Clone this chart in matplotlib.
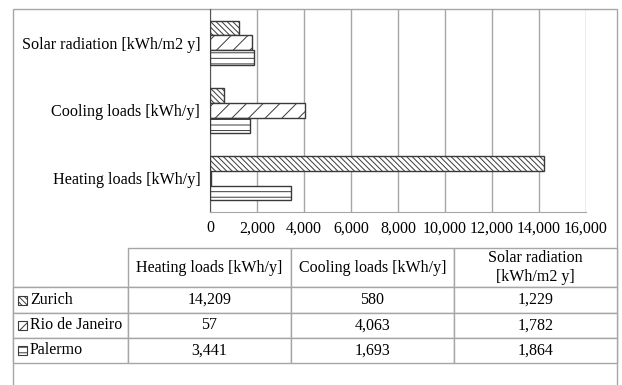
import numpy as np
import matplotlib
matplotlib.use("Agg")
from matplotlib import pyplot as plt
from matplotlib.patches import Rectangle

plt.rcParams['font.family'] = ['Liberation Serif', 'DejaVu Serif']
plt.rcParams['hatch.linewidth'] = 0.7

# data
categories = ['Heating loads [kWh/y]', 'Cooling loads [kWh/y]', 'Solar radiation [kWh/m2 y]']
table_headers = ['Heating loads [kWh/y]', 'Cooling loads [kWh/y]', 'Solar radiation\n[kWh/m2 y]']
cities = ['Zurich', 'Rio de Janeiro', 'Palermo']
zurich = [14209, 580, 1229]
rio = [57, 4063, 1782]
palermo = [3441, 1693, 1864]
x_ticks = [0, 2000, 4000, 6000, 8000, 10000, 12000, 14000, 16000]

series = [zurich, rio, palermo]
hatches = ['\\\\\\\\\\\\', '//', '---']
edge = '#3a3a3a'
grid_c = '#a6a6a6'

W, H = 622, 385
fig = plt.figure(figsize=(W / 100, H / 100), dpi=100)

# outer chart frame
frame = fig.add_axes([0, 0, 1, 1])
frame.set_xlim(0, W)
frame.set_ylim(H, 0)
frame.axis('off')
frame.add_patch(Rectangle((13, 9), 604, 400, fill=False, edgecolor=grid_c, lw=1))

# bar chart
ax = fig.add_axes([210 / W, 1 - 212 / H, 376 / W, 203 / H])
y = np.arange(len(categories))
h = 0.22
for i, vals in enumerate(series):
    ax.barh(y + (1 - i) * h, vals, height=h, color='white', edgecolor=edge,
            hatch=hatches[i], linewidth=1, zorder=3)
ax.set_ylim(-0.5, 2.5)
ax.set_xlim(0, 16000)
ax.set_xticks(x_ticks)
ax.set_xticklabels([f'{t:,}' for t in x_ticks], fontsize=11.5)
ax.set_yticks(y)
ax.set_yticklabels(categories, fontsize=11.6)
ax.tick_params(axis='y', length=0, pad=7)
ax.tick_params(axis='x', length=0, pad=6)
ax.grid(axis='x', color=grid_c, lw=1, zorder=0)
for s in ['top', 'right']:
    ax.spines[s].set_visible(False)
ax.spines['left'].set_color('#555555')
ax.spines['bottom'].set_color(grid_c)
ax.set_facecolor('none')

# data table
tx0, tx1, ty0, ty1 = 13, 617, 248, 363
tax = fig.add_axes([tx0 / W, 1 - ty1 / H, (tx1 - tx0) / W, (ty1 - ty0) / H])
tax.axis('off')
cell_text = [[''] + table_headers]
for name, vals in zip(cities, series):
    cell_text.append([name] + [f'{v:,}' for v in vals])
col_w = [115, 163, 163, 163]
tbl = tax.table(cellText=cell_text, colWidths=col_w, bbox=[0, 0, 1, 1], cellLoc='center')
tbl.auto_set_font_size(False)
row_h = [39, 25, 25, 25]
for (r, c), cell in tbl.get_celld().items():
    cell.set_height(row_h[r])
    cell.set_width(col_w[c])
    cell.set_edgecolor(grid_c)
    cell.set_linewidth(1)
    cell.get_text().set_fontsize(11.5)
    if c == 0:
        cell.get_text().set_ha('left')
        cell.PAD = 0.148
    if r == 0 and c == 0:
        cell.visible_edges = 'B'

# legend keys in table
tw = tx1 - tx0
th = ty1 - ty0
for i in range(3):
    yc = (3 - i - 0.5) * 25 / th
    tax.add_patch(Rectangle((5 / tw, yc - 4.5 / th), 9 / tw, 9 / th, facecolor='white',
                            edgecolor=edge, hatch=hatches[i], lw=0.8,
                            transform=tax.transAxes, clip_on=False))

fig.savefig('out.png', dpi=100)
